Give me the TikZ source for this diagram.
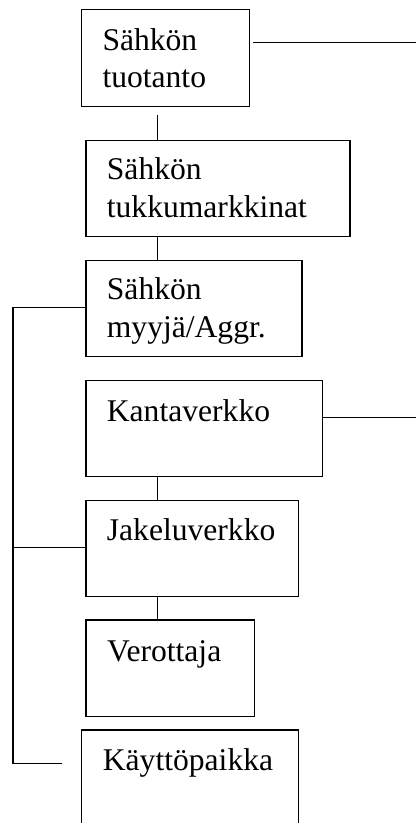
\documentclass[tikz,border=0pt]{standalone}
\usepackage{fontspec}
\setmainfont{Liberation Serif}
\begin{document}
\begin{tikzpicture}[x=1pt,y=-1pt,
  boxx/.style={draw,line width=1.3pt,rectangle,inner sep=0pt,anchor=north west},
  lbl/.style={anchor=base west,inner sep=0pt,font=\fontsize{31.6}{37}\selectfont},
  conn/.style={line width=1.3pt}]
\useasboundingbox (0,0) rectangle (416,823);
\clip (0,0) rectangle (416,823);
% boxes
\node[boxx,minimum width=168pt,minimum height=97pt] (b1) at (81,9) {};
\node[boxx,minimum width=264pt,minimum height=96pt] (b2) at (85.3,140) {};
\node[boxx,minimum width=216pt,minimum height=96pt] (b3) at (85.3,260) {};
\node[boxx,minimum width=236.4pt,minimum height=96pt] (b4) at (85.3,380) {};
\node[boxx,minimum width=212.4pt,minimum height=96pt] (b5) at (85.3,500) {};
\node[boxx,minimum width=168.4pt,minimum height=96.7pt] (b6) at (85.3,619.3) {};
\node[boxx,minimum width=216.7pt,minimum height=110pt] (b7) at (81,729.3) {};
% labels
\node[lbl] (t1a) at (102.3,50) {Sähkön};
\node[lbl] (t1b) at (102.3,87.3) {tuotanto};
\node[lbl] (t2a) at (106.7,179.3) {Sähkön};
\node[lbl] (t2b) at (106.7,217.3) {tukkumarkkinat};
\node[lbl] (t3a) at (106.7,299) {Sähkön};
\node[lbl] (t3b) at (106.7,337.3) {myyjä/Aggr.};
\node[lbl] (t4) at (106.7,421) {Kantaverkko};
\node[lbl] (t5) at (106.7,540) {Jakeluverkko};
\node[lbl] (t6) at (107,661) {Verottaja};
\node[lbl] (t7) at (102.7,770) {Käyttöpaikka};
% free ends
\coordinate (r1s) at (253,42.7);
\coordinate (r1e) at (416,42.7);
\coordinate (r4e) at (416,417.3);
\coordinate (v1s) at (157.3,115);
\coordinate (lt) at (13,307.7);
\coordinate (lm) at (13,547.7);
\coordinate (lb) at (13,763.7);
\coordinate (le) at (61.7,763.7);
% connectors
\draw[conn] (r1s) -- (r1e);
\draw[conn] (b4.east |- r4e) -- (r4e);
\draw[conn] (v1s) -- (v1s |- b2.north);
\draw[conn] (v1s |- b2.south) -- (v1s |- b3.north);
\draw[conn] (v1s |- b4.south) -- (v1s |- b5.north);
\draw[conn] (v1s |- b5.south) -- (v1s |- b6.north);
\draw[conn] (b3.west |- lt) -- (lt) -- (lb) -- (le);
\draw[conn] (lm) -- (b5.west |- lm);
\end{tikzpicture}
\end{document}
